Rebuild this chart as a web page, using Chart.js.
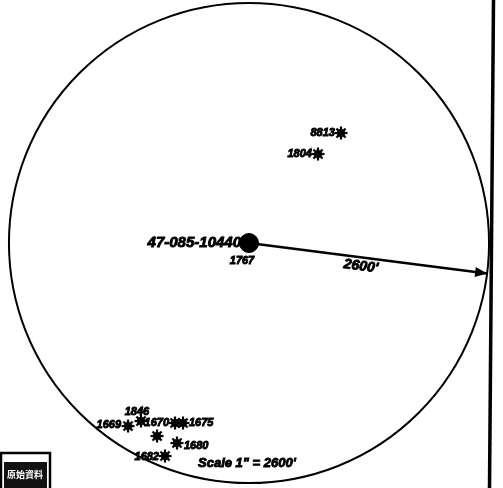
<!DOCTYPE html>
<html>
<head>
<meta charset="utf-8">
<script src="https://cdn.jsdelivr.net/npm/chart.js@4.4.0/dist/chart.umd.js"></script>
<style>
  html, body { margin: 0; padding: 0; background: #fff; }
  #wrap { width: 503px; height: 488px; position: relative; }
</style>
</head>
<body>
<div id="wrap"><canvas id="mapChart" width="503" height="488"></canvas></div>
<script>
// map values, feet from the subject well
const subjectWell = { api: '47-085-10440', elev: '1767', x: 0, y: 0 };
const radiusFt = 2600;
const arrowBearing = 97.3; // degrees from north, clockwise
const scaleText = 'Scale 1" = 2600\'';

const offsetLabels = ['8813', '1804', '1669', '1846', '1670', '1675', '', '1680', '1682'];
const offsetX = [996, 747, -1310, -1170, -801, -715, -996, -780, -910];
const offsetY = [1191, 964, -1982, -1928, -1949, -1949, -2090, -2166, -2307];

// where each label sits next to its symbol (style only)
const labelPlace = [
    { dx: -6, dy: 0, align: 'right' },
    { dx: -6, dy: 0, align: 'right' },
    { dx: -7, dy: -1, align: 'right' },
    { dx: -4, dy: -9, align: 'center' },
    { dx: -6, dy: 0, align: 'right' },
    { dx: 6, dy: 0, align: 'left' },
    { dx: 0, dy: 0, align: 'left' },
    { dx: 7, dy: 3, align: 'left' },
    { dx: -6, dy: 1, align: 'right' }
];

const FONT = '"Liberation Sans", Arial, sans-serif';

// gas well symbol: dot with rays
function wellSymbol() {
    const c = document.createElement('canvas');
    c.width = 14; c.height = 14;
    const g = c.getContext('2d');
    g.fillStyle = '#000';
    g.strokeStyle = '#000';
    g.lineWidth = 2.2;
    g.beginPath();
    g.arc(7, 7, 4, 0, Math.PI * 2);
    g.fill();
    for (let i = 0; i < 8; i++) {
        const a = i * Math.PI / 4;
        g.beginPath();
        g.moveTo(7 + Math.cos(a) * 3, 7 + Math.sin(a) * 3);
        g.lineTo(7 + Math.cos(a) * 6.5, 7 + Math.sin(a) * 6.5);
        g.stroke();
    }
    return c;
}

function heavyText(ctx, txt, x, y) {
    ctx.strokeText(txt, x, y);
    ctx.fillText(txt, x, y);
}

const rad = arrowBearing * Math.PI / 180;
const arrowEnd = { x: subjectWell.x + radiusFt * Math.sin(rad), y: subjectWell.y + radiusFt * Math.cos(rad) };

const mapPlugin = {
    id: 'mapPlugin',
    beforeDatasetsDraw(chart) {
        const { ctx, scales: { x, y } } = chart;
        const cx = x.getPixelForValue(subjectWell.x);
        const cy = y.getPixelForValue(subjectWell.y);
        const rx = x.getPixelForValue(radiusFt) - cx;
        const ry = cy - y.getPixelForValue(radiusFt);
        ctx.save();
        ctx.strokeStyle = '#000';
        ctx.lineWidth = 2;
        ctx.beginPath();
        ctx.ellipse(cx, cy, rx, ry, 0, 0, Math.PI * 2);
        ctx.stroke();

        // right border of the sheet
        ctx.lineWidth = 3.5;
        ctx.beginPath();
        ctx.moveTo(493.5, 0);
        ctx.lineTo(489.5, 488);
        ctx.stroke();

        // stamp box bottom left
        ctx.lineWidth = 2.5;
        ctx.strokeRect(1, 453, 49, 40);
        ctx.fillStyle = '#111';
        ctx.fillRect(4, 462, 43, 26);
        ctx.fillStyle = '#fff';
        ctx.font = 'bold 9px "Noto Sans CJK TC", sans-serif';
        ctx.textAlign = 'center';
        ctx.textBaseline = 'middle';
        ctx.fillText('原始資料', 25, 475);
        ctx.restore();
    },
    afterDatasetsDraw(chart) {
        const { ctx, scales: { x, y } } = chart;
        const cx = x.getPixelForValue(subjectWell.x);
        const cy = y.getPixelForValue(subjectWell.y);
        const ex = x.getPixelForValue(arrowEnd.x);
        const ey = y.getPixelForValue(arrowEnd.y);
        const ang = Math.atan2(ey - cy, ex - cx);
        ctx.save();
        ctx.fillStyle = '#000';
        ctx.strokeStyle = '#000';
        // arrow head
        ctx.beginPath();
        ctx.moveTo(ex, ey);
        ctx.lineTo(ex - 12 * Math.cos(ang) + 5 * Math.sin(ang), ey - 12 * Math.sin(ang) - 5 * Math.cos(ang));
        ctx.lineTo(ex - 12 * Math.cos(ang) - 5 * Math.sin(ang), ey - 12 * Math.sin(ang) + 5 * Math.cos(ang));
        ctx.closePath();
        ctx.fill();

        ctx.font = 'bold italic 11px ' + FONT;
        ctx.lineWidth = 0.9;
        ctx.textBaseline = 'middle';
        // offset well labels
        const meta = chart.getDatasetMeta(0);
        meta.data.forEach((pt, i) => {
            if (!offsetLabels[i]) return;
            const p = labelPlace[i];
            ctx.textAlign = p.align;
            heavyText(ctx, offsetLabels[i], pt.x + p.dx, pt.y + p.dy);
        });

        // subject well labels
        ctx.font = 'bold italic 15px ' + FONT;
        ctx.textAlign = 'right';
        heavyText(ctx, subjectWell.api, cx - 8, cy);
        ctx.font = 'bold italic 11px ' + FONT;
        ctx.textAlign = 'center';
        heavyText(ctx, subjectWell.elev, cx - 7, cy + 18);

        // radius label along the arrow
        ctx.save();
        ctx.translate(cx + (ex - cx) * 0.47, cy + (ey - cy) * 0.47 + 9);
        ctx.rotate(ang);
        ctx.font = 'bold italic 14px ' + FONT;
        heavyText(ctx, radiusFt + "'", 0, 0);
        ctx.restore();

        // scale note
        ctx.font = 'bold italic 13px ' + FONT;
        ctx.textAlign = 'left';
        heavyText(ctx, scaleText, 198, 463);
        ctx.restore();
    }
};

new Chart(document.getElementById('mapChart'), {
    type: 'scatter',
    data: {
        datasets: [
            {
                label: 'Offset wells',
                data: offsetX.map((v, i) => ({ x: v, y: offsetY[i] })),
                pointStyle: wellSymbol(),
                pointRadius: 7
            },
            {
                label: 'Arrow',
                type: 'line',
                data: [{ x: subjectWell.x, y: subjectWell.y }, arrowEnd],
                borderColor: '#000',
                borderWidth: 2.4,
                pointRadius: 0,
                fill: false
            },
            {
                label: 'Subject well',
                data: [{ x: subjectWell.x, y: subjectWell.y }],
                backgroundColor: '#000',
                borderColor: '#000',
                pointRadius: 9.5
            }
        ]
    },
    options: {
        responsive: false,
        animation: false,
        layout: { padding: 0, autoPadding: false },
        plugins: { legend: { display: false }, tooltip: { enabled: false } },
        scales: {
            x: { type: 'linear', display: false, min: -2697, max: 2751 },
            y: { type: 'linear', display: false, min: -2653, max: 2632 }
        }
    },
    plugins: [mapPlugin]
});
</script>
</body>
</html>
